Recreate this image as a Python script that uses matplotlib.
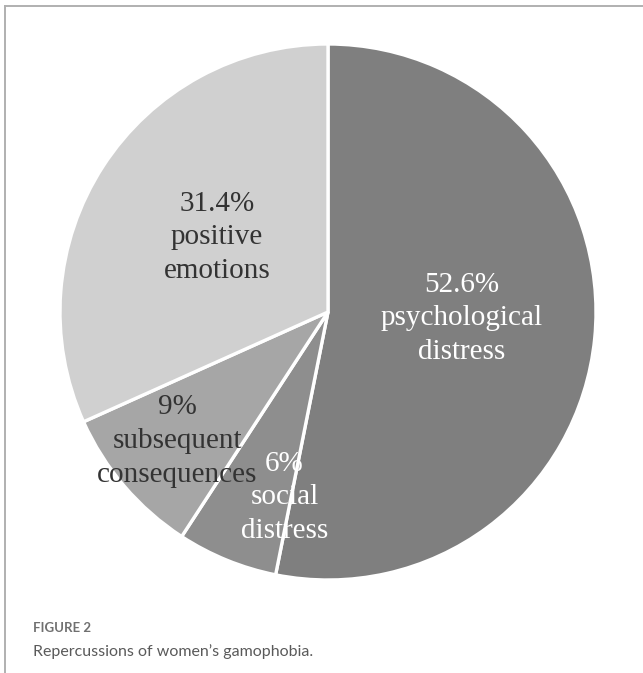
import numpy as np
import matplotlib
matplotlib.use("Agg")
import matplotlib.pyplot as plt
from matplotlib.lines import Line2D

# Data (clockwise from 12 o'clock)
categories = ["psychological\ndistress", "social\ndistress", "subsequent\nconsequences", "positive\nemotions"]
values = [52.6, 6, 9, 31.4]
pct_labels = ["52.6%", "6%", "9%", "31.4%"]

# Styles
colors = ["#7f7f7f", "#8e8e8e", "#a6a6a6", "#d0d0d0"]
text_colors = ["white", "white", "#333333", "#333333"]
label_r = [0.50, 0.71, 0.74, 0.50]
label_dang = [3.0, 9.0, 0.0, -1.0]

W, H = 643, 673
fig = plt.figure(figsize=(W / 100, H / 100), dpi=100)

cx, cy, R = 328, 312, 268
ax = fig.add_axes([(cx - R) / W, (H - cy - R) / H, 2 * R / W, 2 * R / H])
wedges, _ = ax.pie(values, colors=colors, startangle=90, counterclock=False,
                   wedgeprops=dict(edgecolor="white", linewidth=2.4))
ax.set_xlim(-1, 1)
ax.set_ylim(-1, 1)
ax.set_aspect("equal")
ax.axis("off")

for w, cat, pct, tc, r, da in zip(wedges, categories, pct_labels, text_colors, label_r, label_dang):
    ang = np.deg2rad((w.theta1 + w.theta2) / 2 + da)
    ax.text(r * np.cos(ang), r * np.sin(ang), pct + "\n" + cat, ha="center", va="center",
            fontsize=21, family="Liberation Serif", color=tc, linespacing=1.38)

# Border lines (top and left)
fig.add_artist(Line2D([5 / W, 1], [1 - 6 / H, 1 - 6 / H], transform=fig.transFigure,
                      color="#b0b0b0", lw=1.4))
fig.add_artist(Line2D([5 / W, 5 / W], [0, 1 - 6 / H], transform=fig.transFigure,
                      color="#b0b0b0", lw=1.4))

fig.text(33 / W, 1 - 628 / H, "FIGURE 2", ha="left", va="center", fontsize=9.5,
         family="Lato", weight="bold", color="#707070")
fig.text(33 / W, 1 - 652 / H, "Repercussions of women\u2019s gamophobia.", ha="left", va="center",
         fontsize=11.5, family="Lato", color="#5a5a5a")

fig.savefig("out.png", dpi=100)
